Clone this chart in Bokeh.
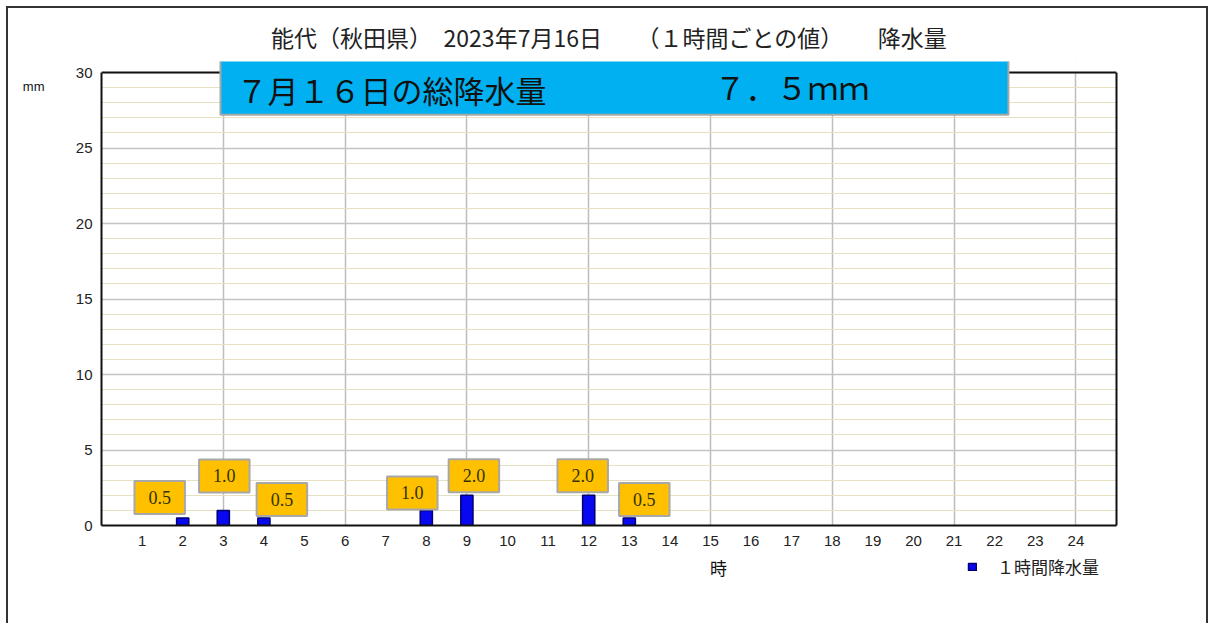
from bokeh.plotting import figure
from bokeh.layouts import column
from bokeh.models import (Range1d, FixedTicker, Grid, Label, Legend, LegendItem,
                          ColumnDataSource, LinearAxis, Span, BoxAnnotation)
from bokeh.embed import file_html
from bokeh.resources import INLINE

# ---- data ----
hours = [2, 3, 4, 8, 9, 12, 13]
rain_mm = [0.5, 1.0, 0.5, 1.0, 2.0, 2.0, 0.5]
x_ticks = list(range(1, 25))
y_ticks = [0, 5, 10, 15, 20, 25, 30]
title_text = "能代（秋田県）　2023年7月16日　　（１時間ごとの値）　　降水量"
banner_left = "７月１６日の総降水量"
banner_right = "７．５ｍｍ"
series_name = "１時間降水量"
unit_text = "mm"
xlabel_text = "時"

# ---- layout for value labels (pixel offsets relative to bar tops) ----
label_dx = [-23, 1, 18, -14, 7, -6, 15]
label_dy = [4, 18, 2, 1, 3, 3, 2]
LABEL_HALF_H = 16.5

JP = "Noto Sans CJK JP"
Y_TOP = 30.73  # a little head room above 30 for the banner box
BAR_STYLE = dict(fill_color="#0808f0", line_color="#000070", line_width=1.5)

W = 1198
H_MAIN, H_FOOT = 544, 71
x_range = Range1d(0, 25)

p = figure(width=W, height=H_MAIN, output_backend="svg", toolbar_location=None,
           x_range=x_range, y_range=Range1d(0, Y_TOP),
           min_border_left=93, min_border_right=90, min_border_top=53,
           min_border_bottom=27, background_fill_color="white",
           border_fill_color="white")
p.outline_line_color = None

# title
p.title.text = title_text
p.title.align = "center"
p.title.text_font = JP
p.title.text_font_size = "23px"
p.title.text_font_style = "normal"
p.title.text_color = "#222222"
p.title.standoff = 16

# grids
p.xgrid.ticker = FixedTicker(ticks=[3, 6, 9, 12, 15, 18, 21, 24])
p.xgrid.grid_line_color = "#bdbdbd"
p.xgrid.grid_line_width = 1.5
p.ygrid.ticker = FixedTicker(ticks=y_ticks)
p.ygrid.grid_line_color = "#c4c4c4"
p.ygrid.grid_line_width = 1.5
minor = [v for v in range(1, 30) if v % 5 != 0]
p.add_layout(Grid(dimension=1, ticker=FixedTicker(ticks=minor),
                  grid_line_color="#e6e1c2", grid_line_width=1.2), "center")

# axes
p.xaxis.ticker = FixedTicker(ticks=x_ticks)
p.yaxis.ticker = FixedTicker(ticks=y_ticks)
p.yaxis.bounds = (0, 30)


def style_axis(ax, size="15px"):
    ax.axis_line_color = "#111111"
    ax.axis_line_width = 2
    ax.major_tick_line_color = None
    ax.minor_tick_line_color = None
    ax.major_tick_out = 0
    ax.major_tick_in = 0
    ax.minor_tick_out = 0
    ax.minor_tick_in = 0
    ax.major_label_text_font = "Liberation Sans"
    ax.major_label_text_font_size = size
    ax.major_label_text_color = "#222222"


style_axis(p.xaxis[0])
style_axis(p.yaxis[0])
p.xaxis.major_label_standoff = 10
p.yaxis.major_label_standoff = 9

# right frame edge
right_ax = LinearAxis(bounds=(0, 30), ticker=FixedTicker(ticks=[]))
style_axis(right_ax)
p.add_layout(right_ax, "right")

# unit "mm" (extra left axis with a single labelled tick)
unit_ax = LinearAxis(ticker=FixedTicker(ticks=[29.1]),
                     major_label_overrides={29.1: unit_text})
style_axis(unit_ax, "13px")
unit_ax.axis_line_color = None
unit_ax.major_label_standoff = 28
unit_ax.major_label_text_color = "#111111"
p.add_layout(unit_ax, "left")

# bars
src = ColumnDataSource(dict(x=hours, top=rain_mm))
bars = p.vbar(x="x", top="top", width=0.3, bottom=0, source=src, **BAR_STYLE)

# white strip above the 30 mm line (room for the banner) and the top frame line
p.add_layout(BoxAnnotation(bottom=30, fill_color="white", fill_alpha=1.0,
                           line_color=None))
p.add_layout(Span(location=30, dimension="width", line_color="#111111",
                  line_width=2))

# value labels (padding order: left, right, top, bottom)
for h, v, dx, dy in zip(hours, rain_mm, label_dx, label_dy):
    p.add_layout(Label(x=h, y=v, x_offset=dx, y_offset=dy + LABEL_HALF_H,
                       text=f"{v:.1f}",
                       text_align="center", text_baseline="middle",
                       text_font="Liberation Serif", text_font_size="18px",
                       text_color="#333300",
                       background_fill_color="#ffc000",
                       border_line_color="#a8a8a8", border_line_width=2,
                       padding=(14, 14, 10, 10)))

# banner
p.add_layout(Label(x=2.93, y=29.05, text=banner_left, text_align="left",
                   text_baseline="middle", text_font=JP, text_font_size="31px",
                   text_color="#111111", background_fill_color="#00b0f0",
                   border_line_color="#a8a8a8", border_line_width=2,
                   padding=(16, 462, 8, 3)))
p.add_layout(Label(x=15.1, y=29.05, text=banner_right, text_align="left",
                   text_baseline="middle", text_font=JP, text_font_size="31px",
                   text_color="#111111"))

# ---- footer strip: x-axis name and legend, sharing the x scale ----
q = figure(width=W, height=H_FOOT, output_backend="svg", toolbar_location=None,
           x_range=x_range, y_range=Range1d(0, H_FOOT),
           x_axis_location=None, y_axis_location=None,
           min_border_left=93, min_border_right=90, min_border_top=0,
           min_border_bottom=0, background_fill_color="white",
           border_fill_color="white")
q.outline_line_color = None
q.grid.visible = False
# legend key: the same series, not drawn in this strip
key = q.vbar(x="x", top="top", width=0.3, bottom=0, source=src, visible=False,
             **BAR_STYLE)
q.add_layout(Label(x=15.2, y=H_FOOT - 15, text=xlabel_text, text_align="center",
                   text_baseline="middle", text_font=JP, text_font_size="17px",
                   text_color="#111111"))
legend = Legend(items=[LegendItem(label=series_name, renderers=[key])],
                location=(866, 44), orientation="horizontal",
                background_fill_alpha=0, border_line_color=None,
                padding=0, margin=0, glyph_width=10, glyph_height=9,
                label_standoff=20, label_text_font=JP,
                label_text_font_size="17px", label_text_color="#222222",
                inactive_fill_alpha=0, click_policy="none")
q.add_layout(legend, "center")

page = column(p, q, spacing=0)
page.styles = {"margin-left": "6px", "margin-top": "6px",
               "border-left": "2px solid #333333", "border-top": "2px solid #333333",
               "border-right": "2px solid #333333"}

open("out.html", "w").write(file_html(page, INLINE))
